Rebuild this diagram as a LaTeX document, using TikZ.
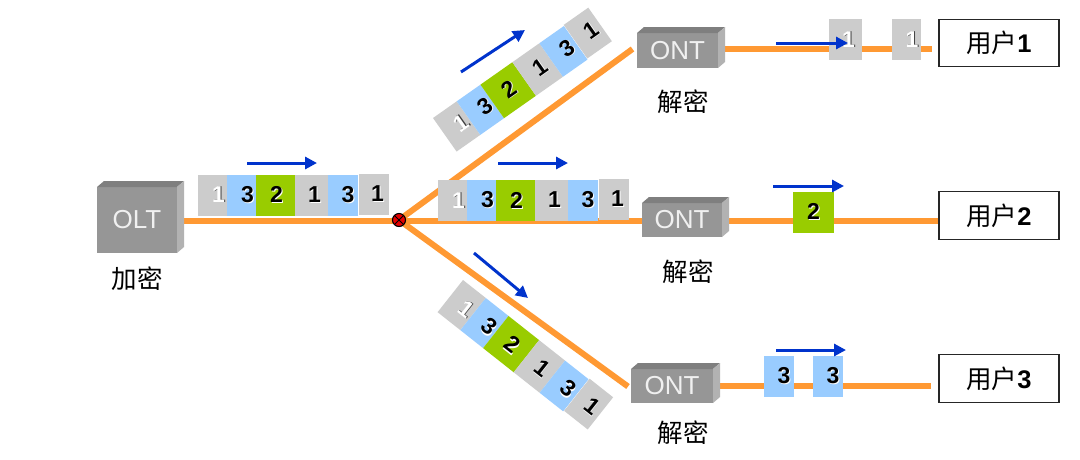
\documentclass[tikz,border=0pt]{standalone}
\usepackage{fontspec}
\setmainfont{Liberation Sans}
\newfontfamily\cjk{Noto Sans CJK SC}
\usetikzlibrary{arrows.meta,calc}
\definecolor{fiberc}{HTML}{FF9933}
\definecolor{flowc}{HTML}{0033CC}
\definecolor{pgrey}{HTML}{CCCCCC}
\definecolor{pblue}{HTML}{99CCFF}
\definecolor{pgreen}{HTML}{99CC00}
\definecolor{boxfront}{HTML}{969696}
\definecolor{boxtop}{HTML}{7F7F7F}
\definecolor{boxside}{HTML}{B2B2B2}
\pgfdeclarelayer{page}
\pgfdeclarelayer{lines}
\pgfsetlayers{page,lines,main}
\tikzset{
  x=1pt,y=-1pt,
  fiber/.style={draw=fiberc,line width=6pt},
  flow/.style={draw=flowc,line width=3pt,-{Triangle[length=12pt,width=12pt]}},
  pkt/.style={anchor=north west,minimum height=41pt,inner sep=0pt,outer sep=0pt,transform shape,text=black,font=\fontsize{23}{23}\selectfont\bfseries},
  netbox/.style={fill=boxfront,inner sep=0pt,outer sep=0pt,text=white!94!black,font=\fontsize{26}{26}\selectfont},
  userbox/.style={draw=black!85,line width=1.8pt,fill=white,minimum width=120pt,inner sep=0pt,outer sep=0pt,font=\fontsize{25.5}{25.5}\selectfont},
  captext/.style={inner sep=0pt,font=\cjk\fontsize{25.5}{25.5}\selectfont},
  splitter/.style={circle,draw=black,line width=1.1pt,fill=red!90!black,minimum size=13pt,inner sep=0pt,outer sep=0pt},
}
% dark digit with a white shadow / white digit with a dark shadow
\newcommand{\dk}[1]{\raisebox{-1pt}{\makebox[0pt][l]{\kern1pt\raisebox{-1pt}{\color{white}#1}}#1}}
\newcommand{\dw}[1]{\raisebox{-1pt}{\makebox[0pt][l]{\kern1pt\color{black!75}#1}{\color{white}#1}}}
% name, x, width, colour, digit, doubled digit shift
\newcommand{\pk}[6]{\node[pkt,fill=#4,minimum width=#3pt] (#1) at (#2,0) {\hspace*{#6pt}#5};}
\newcommand{\pkup}[6]{\node[pkt,fill=#4,minimum width=#3pt] (#1) at (#2,-1) {\hspace*{#6pt}#5};}
\newcommand{\solidbox}[1]{%
  \fill[boxtop] (#1.north west) -- ($(#1.north west)+(7,-6)$) -- ($(#1.north east)+(7,-6)$) -- (#1.north east) -- cycle;
  \fill[boxside] (#1.north east) -- ($(#1.north east)+(7,-6)$) -- ($(#1.south east)+(7,-6)$) -- (#1.south east) -- cycle;}
\newcommand{\pktstrip}[1]{%
  \pk{#1a}{0}{29}{pgrey}{\dw{1}}{12}
  \pk{#1b}{29}{29}{pblue}{\dk{3}}{12}
  \pk{#1c}{58}{39}{pgreen}{\dk{2}}{2}
  \pk{#1d}{97}{33}{pgrey}{\dk{1}}{6}
  \pk{#1e}{130}{30}{pblue}{\dk{3}}{10}
  \pkup{#1f}{160.5}{30}{pgrey}{\dk{1}}{8}}
\begin{document}
\begin{tikzpicture}
\begin{pgfonlayer}{page}
\fill[white] (0,0) rectangle (1080,459);
\end{pgfonlayer}
\useasboundingbox (0,0) rectangle (1080,459);
% equipment
\node[netbox,minimum width=80pt,minimum height=66pt] (olt) at (137,220) {OLT};
\node[netbox,minimum width=81pt,minimum height=35pt] (ont1) at (677.5,50.5) {ONT};
\node[netbox,minimum width=80pt,minimum height=34pt] (ont2) at (682,220) {ONT};
\node[netbox,minimum width=82pt,minimum height=34pt] (ont3) at (672,386) {ONT};
\solidbox{olt}\solidbox{ont1}\solidbox{ont2}\solidbox{ont3}
\node[userbox,minimum height=47pt] (u1) at (999,43) {{\cjk 用户}\textbf{1}};
\node[userbox,minimum height=48pt] (u2) at (999,215.5) {{\cjk 用户}\textbf{2}};
\node[userbox,minimum height=48pt] (u3) at (999,378.5) {{\cjk 用户}\textbf{3}};
\node[splitter] (split) at (399,220) {};
\draw[line width=0.8pt] (split.north west) -- (split.south east) (split.north east) -- (split.south west);
% free ends of the fibres
\coordinate (oltout) at (184,221);
\coordinate (top) at (632.5,49);
\coordinate (bottom) at (628,386.5);
\coordinate (mid) at (642,221);
\coordinate (splitmid) at (399,221);
\coordinate (o1out) at (722,48.5);
\coordinate (u1in) at (932,48.5);
\coordinate (o2out) at (726,221);
\coordinate (u2in) at (938,221);
\coordinate (o3out) at (717,386);
\coordinate (u3in) at (931,386);
\begin{pgfonlayer}{lines}
\draw[fiber] (oltout) -- (splitmid);
\draw[fiber] (split) -- (top);
\draw[fiber] (splitmid) -- (mid);
\draw[fiber] (split) -- (bottom);
\draw[fiber] (o1out) -- (u1in);
\draw[fiber] (o2out) -- (u2in);
\draw[fiber] (o3out) -- (u3in);
\end{pgfonlayer}
% frames on the fibres
\begin{scope}[shift={(198,174.5)}]\pktstrip{m}\end{scope}
\begin{scope}[shift={(438,180)}]\pktstrip{s}\end{scope}
\begin{scope}[shift={(433,118)},rotate=35.1]\pktstrip{t}\end{scope}
\begin{scope}[shift={(463,280)},rotate=-38.3]\pktstrip{b}\end{scope}
\begin{scope}[shift={(829,19)}]\pk{ua}{0}{33}{pgrey}{\dw{1}}{6}\end{scope}
\begin{scope}[shift={(892,19)}]\pk{ub}{0}{29}{pgrey}{\dw{1}}{11}\end{scope}
\begin{scope}[shift={(793,191.5)}]\pk{va}{0}{41}{pgreen}{\dk{2}}{0}\end{scope}
\begin{scope}[shift={(764,355.5)}]\pk{wa}{0}{30}{pblue}{\dk{3}}{10}\end{scope}
\begin{scope}[shift={(813,355.5)}]\pk{wb}{0}{30}{pblue}{\dk{3}}{10}\end{scope}
% direction arrows
\coordinate (a1s) at (247,163); \coordinate (a1e) at (317,163);
\coordinate (a2s) at (498,163); \coordinate (a2e) at (568,163);
\coordinate (a3s) at (461,72);  \coordinate (a3e) at (525,30);
\coordinate (a4s) at (474,253); \coordinate (a4e) at (528,298);
\coordinate (a5s) at (776,43);  \coordinate (a5e) at (848,43);
\coordinate (a6s) at (773,186); \coordinate (a6e) at (844,186);
\coordinate (a7s) at (776,350); \coordinate (a7e) at (846,350);
\draw[flow] (a1s) -- (a1e);
\draw[flow] (a2s) -- (a2e);
\draw[flow] (a3s) -- (a3e);
\draw[flow] (a4s) -- (a4e);
\draw[flow] (a5s) -- (a5e);
\draw[flow] (a6s) -- (a6e);
\draw[flow] (a7s) -- (a7e);
% captions
\node[captext] (c0) at (137,279) {加密};
\node[captext] (c1) at (683,102) {解密};
\node[captext] (c2) at (688,272) {解密};
\node[captext] (c3) at (683,433) {解密};
\end{tikzpicture}
\end{document}
